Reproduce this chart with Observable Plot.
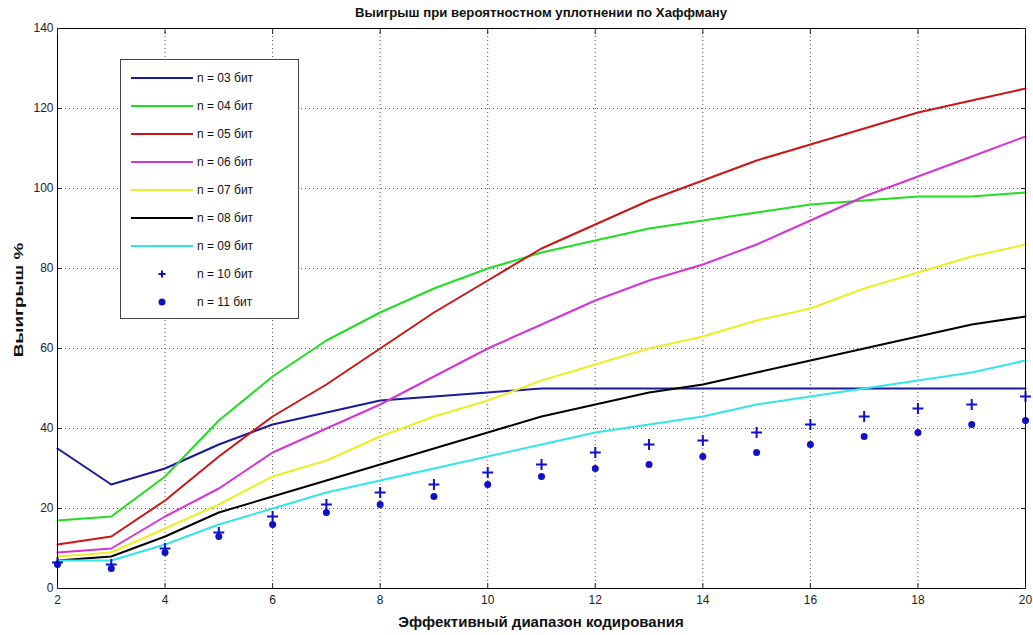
<!DOCTYPE html>
<html><head><meta charset="utf-8">
<script src="https://cdn.jsdelivr.net/npm/d3@7"></script>
<script src="https://cdn.jsdelivr.net/npm/@observablehq/plot@0.6"></script>
<style>
body{margin:0;background:#fff;font-family:"Liberation Sans",Arial,sans-serif;}
#wrap{position:relative;width:1033px;height:635px;overflow:hidden;}
#title{position:absolute;left:57px;width:968px;top:5px;text-align:center;font-weight:bold;font-size:13.2px;color:#111;}
#xlabel{position:absolute;left:57px;width:968px;top:613px;text-align:center;font-weight:bold;font-size:15px;color:#111;}
#ylabel{position:absolute;left:18px;top:300px;transform:translate(-50%,-50%) rotate(-90deg) scaleX(1.45);font-weight:bold;font-size:13px;color:#111;white-space:nowrap;}
#legend{position:absolute;left:120px;top:59px;width:179px;height:260px;background:#fff;border:1px solid #444;box-sizing:border-box;}
.row{position:absolute;left:0;height:20px;width:178px;}
.row svg{position:absolute;left:10px;top:0;}
.row span{position:absolute;left:76px;top:3px;font-size:12px;color:#111;white-space:nowrap;}
svg.plot text{font-family:"Liberation Sans",Arial,sans-serif;}
</style></head>
<body>
<div id="wrap">
  <div id="chart"></div>
  <div id="title"></div>
  <div id="xlabel"></div>
  <div id="ylabel"></div>
  <div id="legend"></div>
</div>
<script>
const titleText = "Выигрыш при вероятностном уплотнении по Хаффману";
const xLabel = "Эффективный диапазон кодирования";
const yLabel = "Выигрыш %";

const xs = [2,3,4,5,6,7,8,9,10,11,12,13,14,15,16,17,18,19,20];
const n03 = [35,26,30,36,41,44,47,48,49,50,50,50,50,50,50,50,50,50,50];
const n04 = [17,18,28,42,53,62,69,75,80,84,87,90,92,94,96,97,98,98,99];
const n05 = [11,13,22,33,43,51,60,69,77,85,91,97,102,107,111,115,119,122,125];
const n06 = [9,10,18,25,34,40,46,53,60,66,72,77,81,86,92,98,103,108,113];
const n07 = [8,9,15,21,28,32,38,43,47,52,56,60,63,67,70,75,79,83,86];
const n08 = [7,8,13,19,23,27,31,35,39,43,46,49,51,54,57,60,63,66,68];
const n09 = [7,7,11,16,20,24,27,30,33,36,39,41,43,46,48,50,52,54,57];
const n10 = [6.5,6,10,14,18,21,24,26,29,31,34,36,37,39,41,43,45,46,48];
const n11 = [6,5,9,13,16,19,21,23,26,28,30,31,33,34,36,38,39,41,42];

const seriesNames = ["n = 03 бит","n = 04 бит","n = 05 бит","n = 06 бит","n = 07 бит","n = 08 бит","n = 09 бит","n = 10 бит","n = 11 бит"];
const lineColors = ["#1a1a9a","#22dd22","#cc1515","#d633d6","#eeee22","#000000","#33e6e6"];
const markerColor = "#1010c8";
const xTicks = [2,4,6,8,10,12,14,16,18,20];
const yTicks = [0,20,40,60,80,100,120,140];

const lineSeries = [n03,n04,n05,n06,n07,n08,n09];
const lineData = lineSeries.flatMap((arr, i) => arr.map((v, j) => ({x: xs[j], y: v, s: seriesNames[i]})));
const plusData = n10.map((v, j) => ({x: xs[j], y: v}));
const dotData = n11.map((v, j) => ({x: xs[j], y: v}));

const chart = Plot.plot({
  width: 1033,
  height: 635,
  marginLeft: 57,
  marginRight: 8,
  marginTop: 28,
  marginBottom: 47,
  style: {background: "#fff", fontSize: "12px", color: "#222"},
  x: {domain: [2, 20], ticks: xTicks},
  y: {domain: [0, 140], ticks: yTicks},
  color: {domain: seriesNames.slice(0, 7), range: lineColors},
  marks: [
    Plot.gridX(xTicks, {stroke: "#333", strokeOpacity: 0.85, strokeDasharray: "1,3"}),
    Plot.gridY(yTicks, {stroke: "#333", strokeOpacity: 0.85, strokeDasharray: "1,3"}),
    Plot.line(lineData, {x: "x", y: "y", z: "s", stroke: "s", strokeWidth: 2}),
    Plot.dot(plusData, {x: "x", y: "y", symbol: "plus", r: 3.6, stroke: markerColor, strokeWidth: 2}),
    Plot.dot(dotData, {x: "x", y: "y", symbol: "circle", r: 3.5, fill: markerColor, stroke: "none"}),
    Plot.frame({stroke: "#000", strokeWidth: 1}),
    Plot.axisX({ticks: xTicks, tickSize: -5, tickPadding: 12, label: null, tickFormat: d => String(d)}),
    Plot.axisX({anchor: "top", ticks: xTicks, tickSize: -5, label: null, tickFormat: () => ""}),
    Plot.axisY({ticks: yTicks, tickSize: -5, tickPadding: 9, label: null, tickFormat: d => String(d)}),
    Plot.axisY({anchor: "right", ticks: yTicks, tickSize: -5, label: null, tickFormat: () => ""})
  ]
});
chart.classList.add("plot");
document.getElementById("chart").appendChild(chart);

document.getElementById("title").textContent = titleText;
document.getElementById("xlabel").textContent = xLabel;
document.getElementById("ylabel").textContent = yLabel;

const legend = document.getElementById("legend");
seriesNames.forEach((name, i) => {
  const row = document.createElement("div");
  row.className = "row";
  row.style.top = (8 + 28 * i) + "px";
  let sample;
  if (i < 7) {
    sample = `<svg width="62" height="20"><line x1="0" x2="62" y1="10" y2="10" stroke="${lineColors[i]}" stroke-width="2"/></svg>`;
  } else if (i === 7) {
    sample = `<svg width="62" height="20"><path d="M31,6.5V13.5M27.5,10H34.5" stroke="${markerColor}" stroke-width="2"/></svg>`;
  } else {
    sample = `<svg width="62" height="20"><circle cx="31" cy="10" r="3.5" fill="${markerColor}"/></svg>`;
  }
  row.innerHTML = sample + `<span>${name}</span>`;
  legend.appendChild(row);
});
</script>
</body></html>
